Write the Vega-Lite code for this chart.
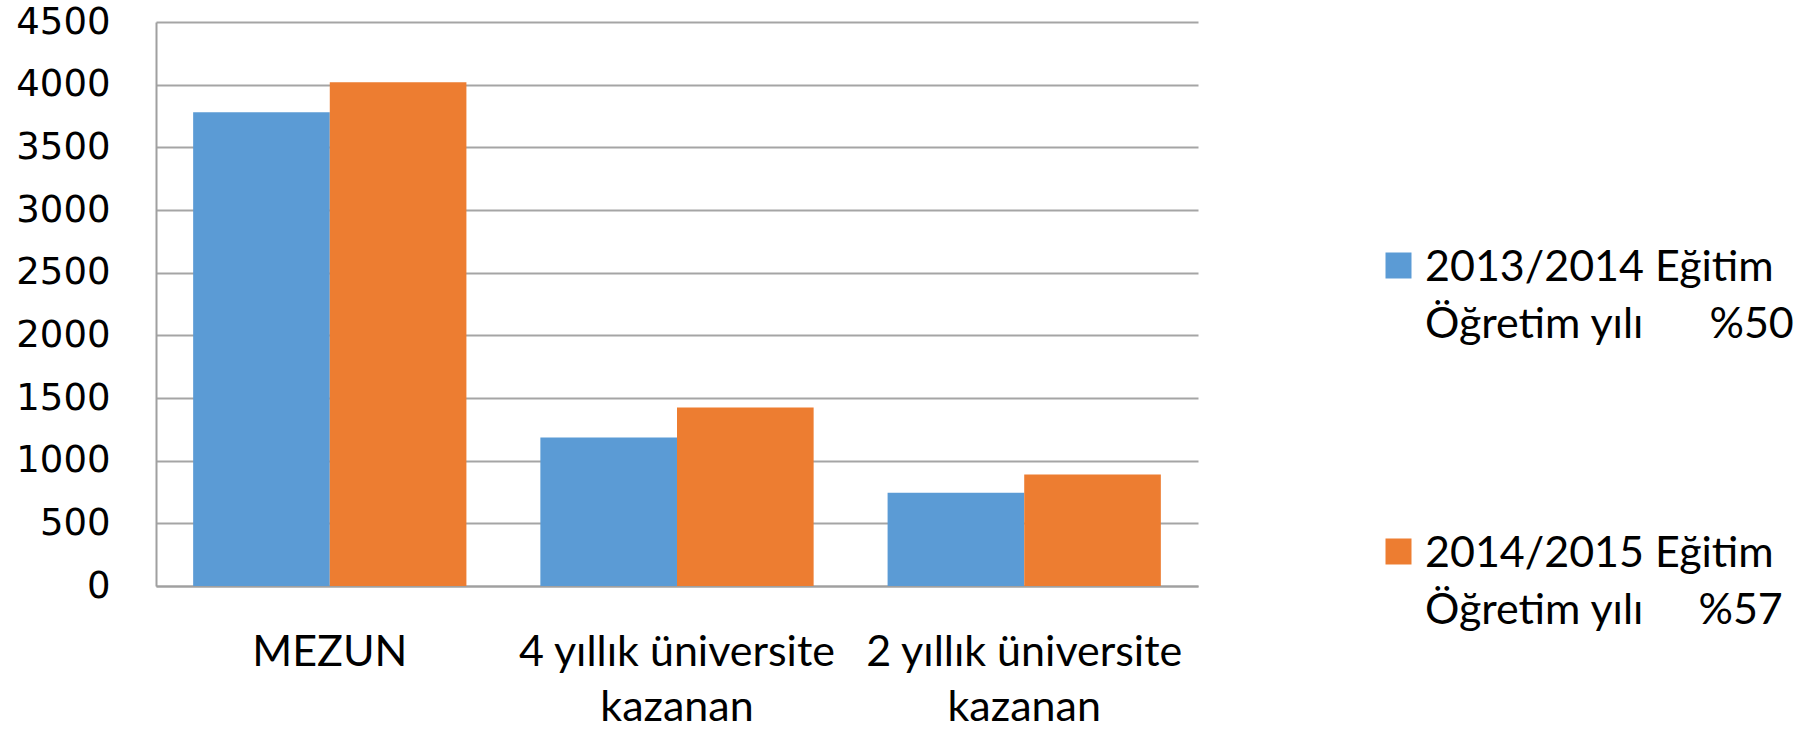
{
  "$schema": "https://vega.github.io/schema/vega-lite/v6.json",
  "autosize": "none",
  "padding": {"left": 156, "top": 22, "right": 620, "bottom": 143},
  "width": 1042,
  "height": 564,
  "background": "white",
  "data": {
    "values": [
      {"kategori": "MEZUN", "donem": "2013/2014", "sayi": 3780},
      {"kategori": "MEZUN", "donem": "2014/2015", "sayi": 4020},
      {"kategori": "4 yıllık üniversite kazanan", "donem": "2013/2014", "sayi": 1185},
      {"kategori": "4 yıllık üniversite kazanan", "donem": "2014/2015", "sayi": 1425},
      {"kategori": "2 yıllık üniversite kazanan", "donem": "2013/2014", "sayi": 745},
      {"kategori": "2 yıllık üniversite kazanan", "donem": "2014/2015", "sayi": 890}
    ]
  },
  "mark": {"type": "bar"},
  "encoding": {
    "x": {
      "field": "kategori",
      "type": "nominal",
      "sort": null,
      "scale": {"paddingInner": 0.213, "paddingOuter": 0.107},
      "axis": {
        "title": null,
        "labelAngle": 0,
        "ticks": false,
        "domain": true,
        "domainColor": "#A0A0A0",
        "domainWidth": 2,
        "labelFont": "Lato",
        "labelFontSize": 43,
        "labelColor": "#000000",
        "labelBaseline": "alphabetic",
        "labelPadding": 79,
        "labelLineHeight": 55,
        "labelLimit": 0,
        "labelExpr": "split(replace(datum.label, ' kazanan', '|kazanan'), '|')"
      }
    },
    "xOffset": {
      "field": "donem",
      "type": "nominal",
      "sort": null,
      "scale": {"paddingInner": 0, "paddingOuter": 0}
    },
    "y": {
      "field": "sayi",
      "type": "quantitative",
      "scale": {"domain": [0, 4500], "nice": false, "zero": true},
      "axis": {
        "title": null,
        "values": [0, 500, 1000, 1500, 2000, 2500, 3000, 3500, 4000, 4500],
        "format": "d",
        "ticks": false,
        "grid": true,
        "gridColor": "#A5A5A5",
        "gridWidth": 2,
        "domain": true,
        "domainColor": "#A0A0A0",
        "domainWidth": 2,
        "labelFont": "DejaVu Sans",
        "labelFontSize": 37,
        "labelColor": "#000000",
        "labelPadding": 46
      }
    },
    "color": {
      "field": "donem",
      "type": "nominal",
      "sort": null,
      "scale": {"domain": ["2013/2014", "2014/2015"], "range": ["#5B9BD5", "#ED7D31"]},
      "legend": {
        "title": null,
        "orient": "none",
        "legendX": 1221,
        "legendY": 237,
        "padding": 0,
        "symbolType": "M-1,-2.154H1V-0.154H-1Z",
        "symbolSize": 676,
        "symbolStrokeWidth": 0,
        "symbolOpacity": 1,
        "labelFont": "Lato",
        "labelFontSize": 43,
        "labelColor": "#000000",
        "labelBaseline": "alphabetic",
        "labelOffset": 5,
        "labelLimit": 0,
        "rowPadding": 185,
        "labelExpr": "[datum.label + ' Eğitim', datum.label == '2013/2014' ? 'Öğretim yılı\u00a0\u00a0\u00a0\u00a0\u00a0 %50' : 'Öğretim yılı\u00a0\u00a0\u00a0\u00a0 %57']"
      }
    }
  },
  "config": {
    "view": {"stroke": null},
    "axis": {"gridCap": "butt"},
    "style": {"guide-label": {"lineHeight": 57}}
  }
}
